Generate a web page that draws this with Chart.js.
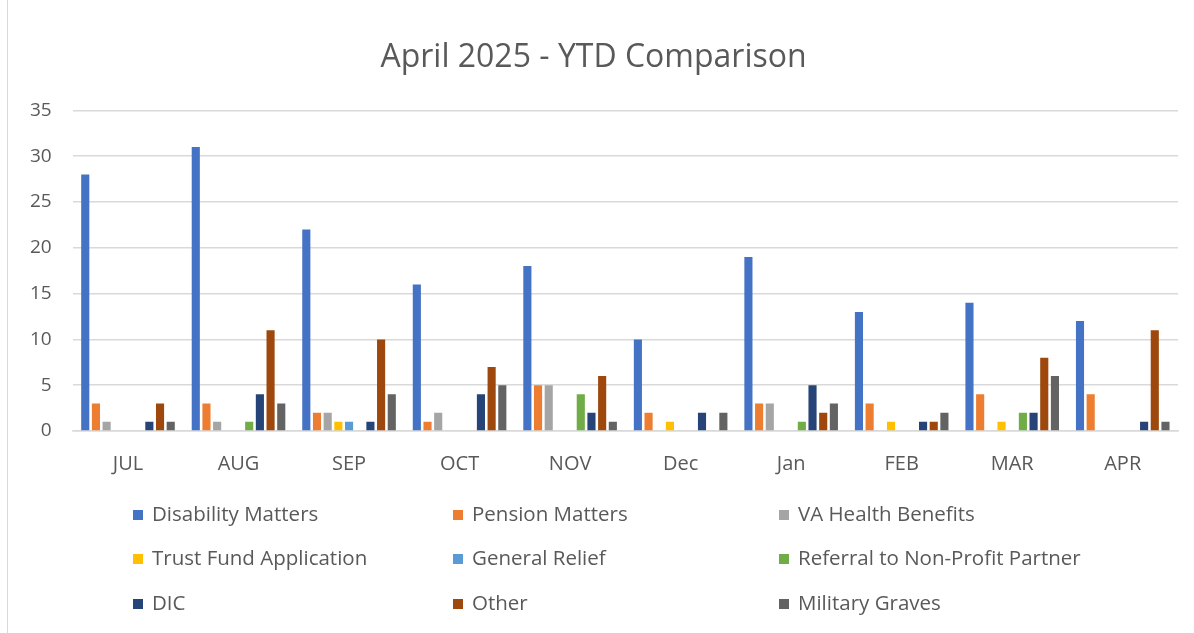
<!DOCTYPE html>
<html>
<head>
<meta charset="utf-8">
<script src="https://cdn.jsdelivr.net/npm/chart.js@4/dist/chart.umd.min.js"></script>
<style>
html,body{margin:0;padding:0;background:#fff;}
#wrap{position:relative;width:1194px;height:633px;}
#frame{position:absolute;left:7px;top:-2px;width:1200px;height:640px;border:1px solid #d9d9d9;box-sizing:border-box;}
canvas{position:absolute;left:0;top:0;}
</style>
</head>
<body>
<div id="wrap"><div id="frame"></div><canvas id="c" width="1194" height="633"></canvas></div>
<script>
const categories = ["JUL","AUG","SEP","OCT","NOV","Dec","Jan","FEB","MAR","APR"];
const seriesNames = ["Disability Matters","Pension Matters","VA Health Benefits","Trust Fund Application","General Relief","Referral to Non-Profit Partner","DIC","Other","Military Graves"];
const disability = [28,31,22,16,18,10,19,13,14,12];
const pension    = [3,3,2,1,5,2,3,3,4,4];
const vaHealth   = [1,1,2,2,5,0,3,0,0,0];
const trustFund  = [0,0,1,0,0,1,0,1,1,0];
const generalRelief = [0,0,1,0,0,0,0,0,0,0];
const referral   = [0,1,0,0,4,0,1,0,2,0];
const dic        = [1,4,1,4,2,2,5,1,2,1];
const other      = [3,11,10,7,6,0,2,1,8,11];
const graves     = [1,3,4,5,1,2,3,2,6,1];
const yTicks = [0,5,10,15,20,25,30,35];
const colors = ["#4472C4","#ED7D31","#A5A5A5","#FFC000","#5B9BD5","#70AD47","#264478","#9E480E","#636363"];
const values = [disability,pension,vaHealth,trustFund,generalRelief,referral,dic,other,graves];

const FONT = "'Open Sans', 'DejaVu Sans', sans-serif";

const gridLegend = {
  id:'gridLegend',
  afterDraw(chart){
    const ctx = chart.ctx;
    const colX = [133,453,779];
    const rowY = [515,559,604];
    ctx.save();
    ctx.font = "20.5px " + FONT;
    ctx.textBaseline = "middle";
    ctx.textAlign = "left";
    chart.data.datasets.forEach((ds,i)=>{
      const x = colX[i%3], y = rowY[Math.floor(i/3)];
      ctx.fillStyle = ds.backgroundColor;
      ctx.fillRect(x, y-5, 10, 10);
      ctx.fillStyle = "#595959";
      ctx.fillText(ds.label, x+19, y);
    });
    ctx.restore();
  }
};

new Chart(document.getElementById('c'), {
  type:'bar',
  data:{
    labels: categories,
    datasets: seriesNames.map((n,i)=>({
      label:n, data:values[i], backgroundColor:colors[i],
      borderWidth:0, categoryPercentage:0.87, barPercentage:0.76
    }))
  },
  options:{
    responsive:false,
    animation:false,
    events:[],
    layout:{padding:{left:9,right:16,top:0,bottom:144}},
    plugins:{
      legend:{display:false},
      tooltip:{enabled:false},
      title:{display:true,text:"April 2025 - YTD Comparison",color:"#595959",
        font:{family:FONT,size:32,weight:'normal'},padding:{top:39,bottom:33}}
    },
    scales:{
      x:{
        grid:{display:false},
        border:{color:"#d9d9d9",width:1.5},
        ticks:{color:"#595959",font:{family:FONT,size:20},padding:13}
      },
      y:{
        min:0,max:35,
        afterBuildTicks(axis){ axis.ticks = yTicks.map(v=>({value:v})); },
        grid:{color:"#d9d9d9",lineWidth:1.5,drawTicks:false},
        border:{display:false},
        ticks:{color:"#595959",font:{family:FONT,size:19},padding:21}
      }
    }
  },
  plugins:[gridLegend]
});
</script>
</body>
</html>
